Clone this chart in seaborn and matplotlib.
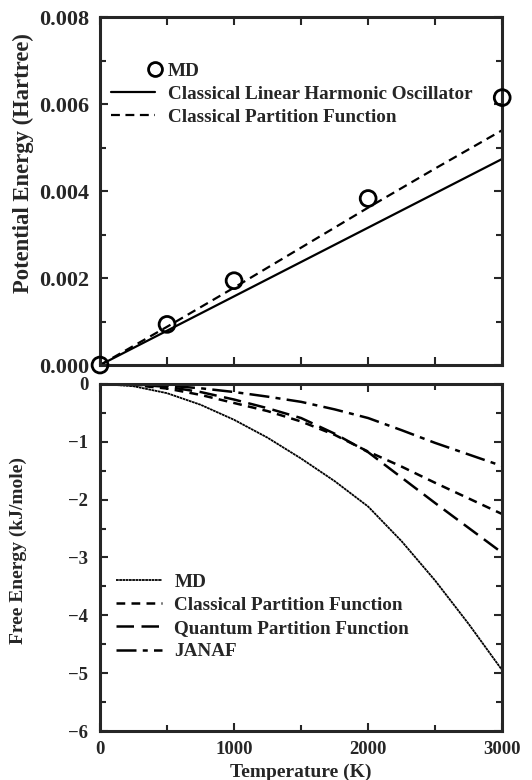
import matplotlib as mpl
mpl.use('Agg')
import matplotlib.pyplot as plt
import numpy as np
import seaborn as sns
from matplotlib.ticker import MultipleLocator
from matplotlib.legend_handler import HandlerLine2DCompound

# top panel: potential energy (Hartree)
md_T = [0, 500, 1000, 2000, 3000]
md_pe = [0.0, 0.000935, 0.00194, 0.00383, 0.00615]

lho_T = [0, 1000, 2000, 3000]
lho_pe = [0.0, 0.00158, 0.00316, 0.00474]

cpf_T = [0, 500, 1000, 1500, 2000, 2500, 3000]
cpf_pe = [0.0, 0.00088, 0.00178, 0.0027, 0.00362, 0.00452, 0.0054]

# bottom panel: free energy (kJ/mole)
T = [0, 250, 500, 750, 1000, 1250, 1500, 1750, 2000, 2250, 2500, 2750, 3000]
fe_md = [0, -0.04, -0.16, -0.36, -0.62, -0.93, -1.29, -1.68, -2.12, -2.72, -3.40, -4.15, -4.95]
fe_classical = [0, -0.02, -0.08, -0.19, -0.33, -0.47, -0.65, -0.88, -1.17, -1.43, -1.71, -1.98, -2.25]
fe_quantum = [0, -0.01, -0.05, -0.14, -0.27, -0.42, -0.59, -0.86, -1.18, -1.62, -2.06, -2.49, -2.92]
fe_janaf = [0, -0.01, -0.03, -0.075, -0.14, -0.22, -0.31, -0.44, -0.59, -0.80, -1.02, -1.22, -1.42]


class RightMarker(HandlerLine2DCompound):
    # single legend marker sits at the right end of the handle, next to the text
    def get_xdata(self, legend, xdescent, ydescent, width, height, fontsize):
        xdata = np.array([-xdescent, -xdescent + width])
        return xdata, np.array([-xdescent + width])


def style_axes(ax, ticksize):
    for s in ax.spines.values():
        s.set_linewidth(2.2)
        s.set_visible(True)
    ax.tick_params(which='both', direction='in', top=True, right=True, width=1.5,
                   labelsize=ticksize)
    ax.tick_params(which='major', length=6)
    ax.tick_params(which='minor', length=4)
    for lab in ax.get_xticklabels() + ax.get_yticklabels():
        lab.set_fontweight('bold')


def main():
    sns.set_style('ticks')
    plt.rcParams['font.family'] = ['Liberation Serif', 'DejaVu Serif']
    plt.rcParams['font.weight'] = 'bold'
    plt.rcParams['font.size'] = 15

    fig = plt.figure(figsize=(5.32, 7.8), dpi=100)
    ax1 = fig.add_axes([0.188, 0.532, 0.756, 0.446])
    ax2 = fig.add_axes([0.188, 0.0628, 0.756, 0.445])

    # ---- top
    sns.scatterplot(x=md_T, y=md_pe, ax=ax1, marker='o', s=130, facecolor='none',
                    edgecolor='black', linewidth=2, clip_on=False, zorder=5, label='MD')
    sns.lineplot(x=lho_T, y=lho_pe, ax=ax1, color='black', lw=1.6,
                 label='Classical Linear Harmonic Oscillator')
    sns.lineplot(x=cpf_T, y=cpf_pe, ax=ax1, color='black', lw=1.6,
                 linestyle=(0, (4, 2.5)), label='Classical Partition Function')
    ax1.set_xlim(0, 3000)
    ax1.set_ylim(0, 0.008)
    ax1.xaxis.set_major_locator(MultipleLocator(500))
    ax1.yaxis.set_minor_locator(MultipleLocator(0.001))
    ax1.set_yticks([0, 0.002, 0.004, 0.006, 0.008])
    ax1.set_yticklabels(['0.000', '0.002', '0.004', '0.006', '0.008'])
    ax1.set_xticklabels([])
    ax1.set_xlabel('')
    ax1.set_ylabel('Potential Energy (Hartree)', fontweight='bold', fontsize=16.3)
    ax1.yaxis.set_label_coords(-0.165, 0.58)
    style_axes(ax1, 16)
    ax1.tick_params(axis='y', pad=7.5)

    md_handle = mpl.lines.Line2D([], [], marker='o', markersize=10, markerfacecolor='none',
                                 markeredgecolor='black', markeredgewidth=2, linestyle='none')
    lines1 = ax1.get_lines()
    ax1.legend([md_handle] + lines1, ['MD', 'Classical Linear Harmonic Oscillator',
                                      'Classical Partition Function'],
               handler_map={md_handle: RightMarker(numpoints=1)},
               loc='upper left', bbox_to_anchor=(0.209, 0.92), bbox_transform=fig.transFigure,
               frameon=False, borderpad=0, borderaxespad=0,
               handlelength=2.3, handletextpad=0.65, labelspacing=0.3,
               prop={'weight': 'bold', 'size': 13.8})

    # ---- bottom
    sns.lineplot(x=T, y=fe_md, ax=ax2, color='black', lw=1.3,
                 linestyle=(0, (1.5, 0.3)), label='MD')
    sns.lineplot(x=T, y=fe_classical, ax=ax2, color='black', lw=1.8,
                 linestyle=(0, (3.5, 2.5)), label='Classical Partition Function')
    sns.lineplot(x=T, y=fe_quantum, ax=ax2, color='black', lw=1.8,
                 linestyle=(0, (7, 3)), label='Quantum Partition Function')
    sns.lineplot(x=T, y=fe_janaf, ax=ax2, color='black', lw=1.8,
                 linestyle=(0, (8, 2.5, 2, 2.5)), label='JANAF')
    ax2.set_xlim(0, 3000)
    ax2.set_ylim(-6, 0)
    ax2.xaxis.set_minor_locator(MultipleLocator(500))
    ax2.yaxis.set_minor_locator(MultipleLocator(0.5))
    ax2.set_yticks([0, -1, -2, -3, -4, -5, -6])
    ax2.set_yticklabels(['0', '\u22121', '\u22122', '\u22123', '\u22124', '\u22125', '\u22126'])
    ax2.set_xticks([0, 1000, 2000, 3000])
    ax2.set_xticklabels(['0', '1000', '2000', '3000'])
    ax2.set_xlabel('Temperature (K)', fontweight='bold', fontsize=14, labelpad=4)
    ax2.set_ylabel('Free Energy (kJ/mole)', fontweight='bold', fontsize=14)
    ax2.yaxis.set_label_coords(-0.182, 0.52)
    style_axes(ax2, 13.5)
    ax2.tick_params(axis='y', pad=8.5)
    ax2.tick_params(axis='x', pad=7)
    ax2.legend(loc='upper left', bbox_to_anchor=(0.218, 0.265), bbox_transform=fig.transFigure,
               frameon=False, borderpad=0, borderaxespad=0,
               handlelength=2.4, handletextpad=0.65, labelspacing=0.3,
               prop={'weight': 'bold', 'size': 13.8})

    fig.savefig('out.png', dpi=100)


if __name__ == '__main__':
    main()
